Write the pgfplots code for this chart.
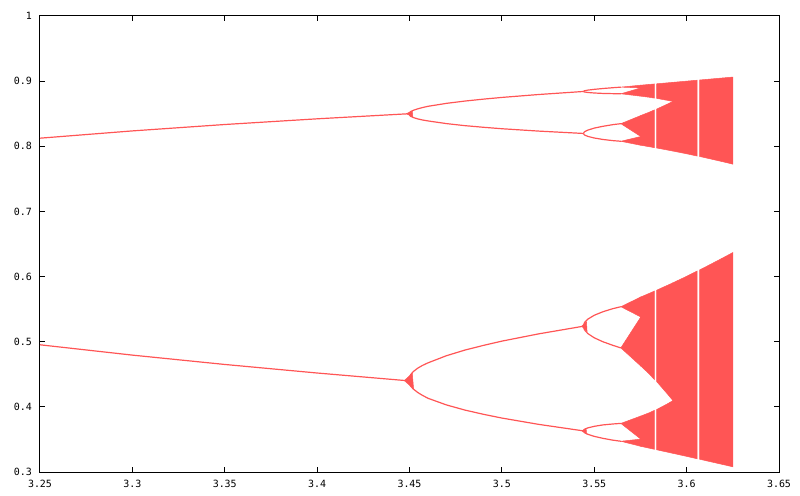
\documentclass[border=0pt]{standalone}
\usepackage{pgfplots}
\pgfplotsset{compat=1.18}
\usepackage{fontspec}
\newfontfamily\tickfont{DejaVu Sans Mono}
\definecolor{bif}{RGB}{255,85,85}
\begin{document}
\begin{tikzpicture}
\begin{axis}[
  scale only axis, width=739bp, height=456bp,
  xmin=3.25, xmax=3.65, ymin=0.3, ymax=1,
  xtick={3.25,3.3,3.35,3.4,3.45,3.5,3.55,3.6,3.65},
  xticklabels={3.25,3.3,3.35,3.4,3.45,3.5,3.55,3.6,3.65},
  ytick={0.3,0.4,0.5,0.6,0.7,0.8,0.9,1},
  yticklabels={0.3,0.4,0.5,0.6,0.7,0.8,0.9,1},
  tick align=inside, major tick length=5bp,
  axis line style={line width=1bp, black},
  tick style={line width=1bp, black},
  ticklabel style={font=\tickfont\fontsize{10}{12}\selectfont, inner sep=0pt},
  xticklabel style={anchor=center, yshift=-12bp},
  yticklabel style={anchor=east, xshift=-8bp},
  every axis plot/.append style={mark=none},
  branch/.style={bif, line width=1.2bp, line join=round},
  band/.style={fill=bif, draw=bif, line width=0.5bp},
]
% ---- period 2
\addplot[branch] coordinates {(3.25,0.81243) (3.30,0.82360) (3.35,0.83342) (3.40,0.84216) (3.4495,0.84994)};
\addplot[branch] coordinates {(3.25,0.49527) (3.30,0.47943) (3.35,0.46509) (3.40,0.45196) (3.4495,0.43996)};
% ---- period 4
\addplot[branch] coordinates {(3.4495,0.84994) (3.4505,0.85315) (3.452,0.85514) (3.4545,0.85751) (3.457,0.85942) (3.46,0.86136) (3.47,0.86589) (3.48,0.86943) (3.49,0.87237) (3.50,0.87500) (3.52,0.87949) (3.54,0.88333) (3.5441,0.88412)};
\addplot[branch] coordinates {(3.4495,0.84994) (3.4505,0.84620) (3.452,0.84416) (3.4545,0.84199) (3.457,0.84040) (3.46,0.83893) (3.47,0.83482) (3.48,0.83167) (3.49,0.82918) (3.50,0.82694) (3.52,0.82330) (3.54,0.82032) (3.5441,0.81970)};
\addplot[branch] coordinates {(3.4495,0.43996) (3.4505,0.44901) (3.452,0.45402) (3.4545,0.45950) (3.457,0.46357) (3.46,0.46755) (3.47,0.47851) (3.48,0.48717) (3.49,0.49434) (3.50,0.50090) (3.52,0.51209) (3.54,0.52179) (3.5441,0.52378)};
\addplot[branch] coordinates {(3.4495,0.43996) (3.4505,0.43221) (3.452,0.42752) (3.4545,0.42201) (3.457,0.41766) (3.46,0.41319) (3.47,0.40295) (3.48,0.39506) (3.49,0.38858) (3.50,0.38281) (3.52,0.37308) (3.54,0.36483) (3.5441,0.36314)};
% ---- period 8
\addplot[branch] coordinates {(3.5441,0.88412) (3.5447,0.8852) (3.5465,0.8862) (3.5500,0.8874) (3.55464,0.88866) (3.5600,0.8899) (3.5644,0.8908)};
\addplot[branch] coordinates {(3.5441,0.88412) (3.5447,0.8834) (3.5465,0.8826) (3.5500,0.8818) (3.55464,0.88115) (3.5600,0.8808) (3.5644,0.8806)};
\addplot[branch] coordinates {(3.5441,0.81970) (3.5447,0.8222) (3.5465,0.8248) (3.5500,0.8279) (3.55464,0.83066) (3.5600,0.8332) (3.5644,0.8347)};
\addplot[branch] coordinates {(3.5441,0.81970) (3.5447,0.8174) (3.5465,0.8152) (3.5500,0.8127) (3.55464,0.81049) (3.5600,0.8087) (3.5644,0.8077)};
\addplot[branch] coordinates {(3.5441,0.52378) (3.5447,0.5293) (3.5465,0.5346) (3.5500,0.5406) (3.55464,0.54597) (3.5600,0.5507) (3.5644,0.5537)};
\addplot[branch] coordinates {(3.5441,0.52378) (3.5447,0.5183) (3.5465,0.5126) (3.5500,0.5060) (3.55464,0.50000) (3.5600,0.4945) (3.5644,0.4905)};
\addplot[branch] coordinates {(3.5441,0.36314) (3.5447,0.3655) (3.5465,0.3677) (3.5500,0.3701) (3.55464,0.37226) (3.5600,0.3737) (3.5644,0.3746)};
\addplot[branch] coordinates {(3.5441,0.36314) (3.5447,0.3605) (3.5465,0.3579) (3.5500,0.3547) (3.55464,0.35171) (3.5600,0.3489) (3.5644,0.3472)};
% ---- transient blobs at the bifurcations
\addplot[band] coordinates {(3.4482,0.8500) (3.4515,0.8540) (3.4518,0.8455) (3.4482,0.8500)};
\addplot[band] coordinates {(3.4472,0.4403) (3.4515,0.4515) (3.4522,0.4280) (3.4472,0.4403)};
\addplot[band] coordinates {(3.5432,0.5238) (3.5458,0.5305) (3.5461,0.5160) (3.5432,0.5238)};
\addplot[band] coordinates {(3.5432,0.3631) (3.5456,0.3670) (3.5458,0.3585) (3.5432,0.3631)};
% ---- 8 bands (3.5644 -> 3.5752)
\addplot[band] coordinates {(3.5644,0.8908) (3.5752,0.8938) (3.5752,0.8896) (3.5644,0.8908)};
\addplot[band] coordinates {(3.5644,0.8806) (3.5752,0.8896) (3.5752,0.8769) (3.5644,0.8806)};
\addplot[band] coordinates {(3.5644,0.8347) (3.5752,0.8472) (3.5752,0.8150) (3.5644,0.8347)};
\addplot[band] coordinates {(3.5644,0.8077) (3.5752,0.8150) (3.5752,0.8015) (3.5644,0.8077)};
\addplot[band] coordinates {(3.5644,0.5537) (3.5752,0.5687) (3.5752,0.5380) (3.5644,0.5537)};
\addplot[band] coordinates {(3.5644,0.4905) (3.5752,0.5380) (3.5752,0.4627) (3.5644,0.4905)};
\addplot[band] coordinates {(3.5644,0.3746) (3.5752,0.3859) (3.5752,0.3505) (3.5644,0.3746)};
\addplot[band] coordinates {(3.5644,0.3472) (3.5752,0.3505) (3.5752,0.3394) (3.5644,0.3472)};
% ---- 4 bands, piece A (3.5752 -> 3.5825)
\addplot[band] coordinates {(3.5752,0.33937) (3.58,0.33643) (3.5825,0.33483) (3.5825,0.39457) (3.58,0.39118) (3.5752,0.38588) (3.5752,0.33937)};
\addplot[band] coordinates {(3.5752,0.46273) (3.58,0.44989) (3.5825,0.44210) (3.5825,0.57770) (3.58,0.57448) (3.5752,0.56871) (3.5752,0.46273)};
\addplot[band] coordinates {(3.5752,0.80155) (3.58,0.79922) (3.5825,0.79790) (3.5825,0.85579) (3.58,0.85261) (3.5752,0.84723) (3.5752,0.80155)};
\addplot[band] coordinates {(3.5752,0.87692) (3.58,0.87514) (3.5825,0.87398) (3.5825,0.89565) (3.58,0.89500) (3.5752,0.89380) (3.5752,0.87692)};
% ---- 4 bands, piece B (3.5837 -> 3.5926)
\addplot[band] coordinates {(3.5837,0.33422) (3.585,0.33336) (3.59,0.33026) (3.5926,0.32864) (3.5926,0.40962) (3.59,0.40526) (3.585,0.39770) (3.5837,0.39587) (3.5837,0.33422)};
\addplot[band] coordinates {(3.5837,0.43910) (3.585,0.43490) (3.59,0.41850) (3.5926,0.40962) (3.5926,0.59045) (3.59,0.58706) (3.585,0.58068) (3.5837,0.57894) (3.5837,0.43910)};
\addplot[band] coordinates {(3.5837,0.79740) (3.585,0.79669) (3.59,0.79407) (3.5926,0.79266) (3.5926,0.86880) (3.59,0.86528) (3.585,0.85873) (3.5837,0.85702) (3.5837,0.79740)};
\addplot[band] coordinates {(3.5837,0.87354) (3.585,0.87292) (3.59,0.87029) (3.5926,0.86876) (3.5926,0.89815) (3.59,0.89750) (3.585,0.89625) (3.5837,0.89590) (3.5837,0.87354)};
% ---- 2 bands, piece C (3.5926 -> 3.6057)
\addplot[band] coordinates {(3.5926,0.32864) (3.60,0.32400) (3.6057,0.32032) (3.6057,0.60855) (3.60,0.60039) (3.5926,0.59045) (3.5926,0.32864)};
\addplot[band] coordinates {(3.5926,0.79266) (3.60,0.78849) (3.6057,0.78500) (3.6057,0.90145) (3.60,0.90000) (3.5926,0.89815) (3.5926,0.79266)};
% ---- 2 bands, piece D (3.6071 -> 3.625)
\addplot[band] coordinates {(3.6071,0.31956) (3.61,0.31766) (3.62,0.31123) (3.625,0.30798) (3.625,0.63689) (3.62,0.62923) (3.61,0.61446) (3.6071,0.61024) (3.6071,0.31956)};
\addplot[band] coordinates {(3.6071,0.78428) (3.61,0.78247) (3.62,0.77601) (3.625,0.77259) (3.625,0.90625) (3.62,0.90500) (3.61,0.90250) (3.6071,0.90175) (3.6071,0.78428)};
\end{axis}
\pgfresetboundingbox
\useasboundingbox ([shift={(-40bp,-24bp)}]current axis.south west) rectangle ([shift={(21bp,16bp)}]current axis.north east);
\end{tikzpicture}
\end{document}
